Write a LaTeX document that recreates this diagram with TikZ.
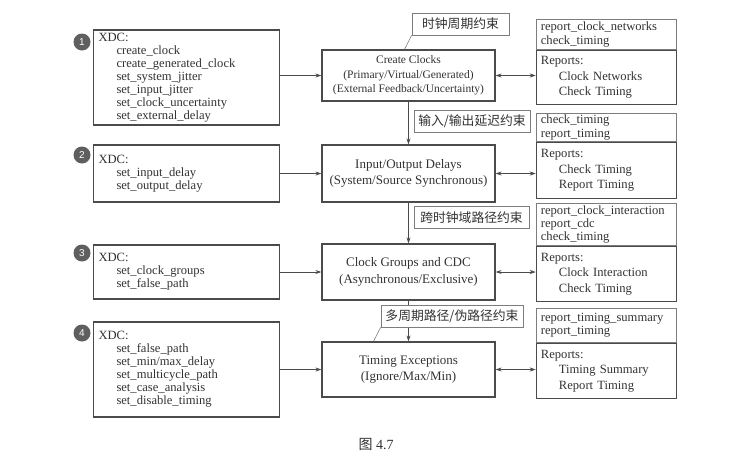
\documentclass[tikz,border=0pt]{standalone}
\usepackage{fontspec}
\setmainfont{Liberation Serif}
\newfontfamily\cjk{Noto Sans CJK SC}
\newfontfamily\numsans{Liberation Sans}
\usetikzlibrary{arrows.meta,positioning}
\definecolor{linegray}{RGB}{75,75,75}
\definecolor{tagline}{RGB}{125,125,125}
\definecolor{textgray}{RGB}{50,50,50}
\definecolor{dotgray}{RGB}{95,95,95}
\newcommand{\cmdind}{\hspace*{18pt}}

\begin{document}
\begin{tikzpicture}[x=1pt,y=-1pt,
  xdcbox/.style={draw=linegray, line width=1.3pt, text=textgray, text width=176pt,
    inner xsep=5pt, inner ysep=2pt, align=left, font=\fontsize{12.6}{13}\selectfont},
  stepdot/.style={circle, fill=dotgray, text=white, minimum size=17pt, inner sep=0pt,
    font=\numsans\fontsize{10}{10}\selectfont},
  mainbox/.style={draw=linegray, line width=1.3pt, text=textgray, minimum width=173pt,
    align=center, font=\fontsize{13}{16.5}\selectfont},
  tagbox/.style={draw=tagline, line width=0.8pt, fill=white, text=textgray,
    minimum height=22pt, inner sep=0pt, font=\cjk\fontsize{12.8}{13}\selectfont},
  cmdbox/.style={draw=tagline, line width=0.8pt, text=textgray, text width=131pt,
    inner xsep=4.5pt, inner ysep=1pt, align=left, anchor=north west,
    font=\fontsize{12.6}{13.3}\selectfont},
  repbox/.style={draw=linegray, line width=1.3pt, text=textgray, text width=131pt,
    inner xsep=4.5pt, inner ysep=1pt, align=left, font=\fontsize{12.6}{15.5}\selectfont},
  flow/.style={draw=linegray, line width=0.7pt, -{Stealth[length=6pt,width=4pt]}},
  both/.style={draw=linegray, line width=0.7pt, {Stealth[length=6pt,width=4pt]}-{Stealth[length=6pt,width=4pt]}}
]
\useasboundingbox (0,0) rectangle (756,464);

% XDC command boxes
\node[xdcbox, minimum height=95pt] (xdc1) at (186.5,77.5) {XDC:\\
  \cmdind create\_clock\\ \cmdind create\_generated\_clock\\ \cmdind set\_system\_jitter\\
  \cmdind set\_input\_jitter\\ \cmdind set\_clock\_uncertainty\\ \cmdind set\_external\_delay};
\node[xdcbox, minimum height=57pt] (xdc2) at (186.5,173.5) {XDC:\\
  \cmdind set\_input\_delay\\ \cmdind set\_output\_delay};
\node[xdcbox, minimum height=54pt] (xdc3) at (186.5,272) {XDC:\\
  \cmdind set\_clock\_groups\\ \cmdind set\_false\_path};
\node[xdcbox, minimum height=95pt] (xdc4) at (186.5,369.5) {XDC:\\
  \cmdind set\_false\_path\\ \cmdind set\_min/max\_delay\\ \cmdind set\_multicycle\_path\\
  \cmdind set\_case\_analysis\\ \cmdind set\_disable\_timing};

% step numbers
\node[stepdot] (n1) at (82,42) {1};
\node[stepdot] (n2) at (82,155) {2};
\node[stepdot] (n3) at (82,253) {3};
\node[stepdot] (n4) at (82,333) {4};

% constraint steps
\node[mainbox, minimum height=51pt, font=\fontsize{11.5}{14.5}\selectfont] (clk) at (408.5,75.5)
  {Create Clocks\\(Primary/Virtual/Generated)\\(External Feedback/Uncertainty)};
\node[mainbox, minimum height=57pt] (io) at (408.5,173.5)
  {Input/Output Delays\\(System/Source Synchronous)};
\node[mainbox, minimum height=56pt] (cdc) at (408.5,272)
  {Clock Groups and CDC\\(Asynchronous/Exclusive)};
\node[mainbox, minimum height=55pt] (exc) at (408.5,369.5)
  {Timing Exceptions\\(Ignore/Max/Min)};

% report commands and reports
\node[cmdbox, minimum height=30pt] (r1cmd) at (536,19) {report\_clock\_networks\\check\_timing};
\node[repbox, minimum height=54pt, below=0pt of r1cmd] (r1rep)
  {Reports:\\ \cmdind Clock Networks\\ \cmdind Check Timing};
\node[cmdbox, minimum height=28pt] (r2cmd) at (536,113) {check\_timing\\report\_timing};
\node[repbox, minimum height=56pt, below=0pt of r2cmd] (r2rep)
  {Reports:\\ \cmdind Check Timing\\ \cmdind Report Timing};
\node[cmdbox, minimum height=42pt] (r3cmd) at (536,203)
  {report\_clock\_interaction\\report\_cdc\\check\_timing};
\node[repbox, minimum height=55pt, below=0pt of r3cmd] (r3rep)
  {Reports:\\ \cmdind Clock Interaction\\ \cmdind Check Timing};
\node[cmdbox, minimum height=34pt] (r4cmd) at (536,308) {report\_timing\_summary\\report\_timing};
\node[repbox, minimum height=55pt, below=0pt of r4cmd] (r4rep)
  {Reports:\\ \cmdind Timing Summary\\ \cmdind Report Timing};

% Connections
\draw[flow] (xdc1.east |- clk.west) -- (clk.west);
\draw[flow] (xdc2.east |- io.west) -- (io.west);
\draw[flow] (xdc3.east |- cdc.west) -- (cdc.west);
\draw[flow] (xdc4.east |- exc.west) -- (exc.west);
\draw[both] (clk.east) -- (clk.east -| r1rep.west);
\draw[both] (io.east) -- (io.east -| r2rep.west);
\draw[both] (cdc.east) -- (cdc.east -| r3rep.west);
\draw[both] (exc.east) -- (exc.east -| r4rep.west);
\draw[flow] (clk.south) -- (io.north);
\draw[flow] (io.south) -- (cdc.north);
\draw[flow] (cdc.south) -- (exc.north);

% tags
\node[tagbox, minimum width=97pt] (tag1) at (460.5,24) {时钟周期约束};
\node[tagbox, minimum width=116pt] (tag2) at (472,121) {输入/输出延迟约束};
\node[tagbox, minimum width=115pt] (tag3) at (471.5,217.5) {跨时钟域路径约束};
\node[tagbox, minimum width=142pt] (tag4) at (452,316) {多周期路径/伪路径约束};
\coordinate (lead1) at ([xshift=-4pt]clk.north);
\coordinate (lead4) at ([xshift=-35pt]exc.north);
\draw[tagline, line width=0.6pt] (tag1.south west) -- (lead1);
\draw[tagline, line width=0.6pt] (tag4.south west) -- (lead4);

% caption
\node[text=textgray, font=\fontsize{14}{14}\selectfont] (cap) at (376,444) {{\cjk 图} 4.7};
\end{tikzpicture}
\end{document}
